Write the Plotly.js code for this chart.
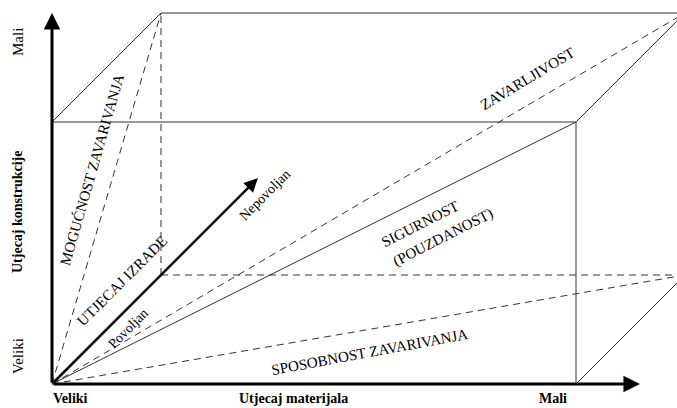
<!DOCTYPE html>
<html>
<head>
<meta charset="utf-8">
<script src="https://cdn.plot.ly/plotly-3.0.1.min.js"></script>
<style>html,body{margin:0;padding:0;background:#fff;}#chart{width:677px;height:408px;}</style>
</head>
<body>
<div id="chart"></div>
<script>
// ---- diagram data (units of the drawing) ----
const boxWidth = [10];        // front face width  (Utjecaj materijala)
const boxHeight = [5];        // front face height (Utjecaj konstrukcije)
const boxDepth = [2.08];      // depth (Utjecaj izrade)
const axisLength = [11.22, 7.08];   // x-axis, y-axis arrow lengths
const izradeArrow = [3.93];   // length (per component) of the UTJECAJ IZRADE arrow
const axisTitles = ["Utjecaj materijala", "Utjecaj konstrukcije"];
const xTickLabels = ["Veliki", "Mali"];
const yTickLabels = ["Veliki", "Mali"];
const regionLabels = ["MOGUĆNOST ZAVARIVANJA", "UTJECAJ IZRADE", "ZAVARLJIVOST",
                      "SIGURNOST", "(POUZDANOST)", "SPOSOBNOST ZAVARIVANJA"];
const arrowLabels = ["Povoljan", "Nepovoljan"];

// ---- geometry built from the data ----
const W = boxWidth[0], H = boxHeight[0], D = boxDepth[0];
const O = [0, 0], A = [W, 0], B = [W, H], C = [0, H];
const O2 = [D, D], A2 = [W + D, D], B2 = [W + D, H + D], C2 = [D, H + D];

function seg(p, q, dash, color, width) {
  return {x: [p[0], q[0]], y: [p[1], q[1]], mode: 'lines', type: 'scatter',
          hoverinfo: 'skip', showlegend: false,
          line: {color: color || '#333', width: width || 1, dash: dash || 'solid'}};
}
const dashPat = '7px,5px';
const traces = [
  // visible box edges
  seg(C, B), seg(A, B), seg(C, C2), seg(B, B2), seg(A, A2), seg(C2, B2),
  // hidden box edges
  seg(O2, C2, dashPat), seg(O2, A2, dashPat),
  // diagonals from the origin
  seg(O, C2, dashPat), seg(O, B), seg(O, B2, dashPat), seg(O, A2, dashPat)
];

const serif = 'Liberation Serif, Times New Roman, serif';
function lab(text, x, y, ang, size, bold, extra) {
  return Object.assign({text: bold ? '<b>' + text + '</b>' : text, x: x, y: y, xref: 'x', yref: 'y',
    showarrow: false, textangle: ang, font: {family: serif, size: size, color: '#000'}}, extra || {});
}
function arrow(tail, tip, width, size) {
  return {x: tip[0], y: tip[1], ax: tail[0], ay: tail[1], xref: 'x', yref: 'y', axref: 'x', ayref: 'y',
    text: '', showarrow: true, arrowhead: 2, arrowsize: size, arrowwidth: width, arrowcolor: '#000', standoff: 0, startstandoff: 0};
}
const px = v => v / 52.4;   // helper: pixel offsets to drawing units

const annotations = [
  arrow(O, [0, axisLength[1]], 3, 1.1),
  arrow(O, [axisLength[0], 0], 3, 1.1),
  arrow(O, [izradeArrow[0], izradeArrow[0]], 2.5, 1.1),
  // axis tick labels & titles
  lab(yTickLabels[1], px(-34), px(342), -90, 15, false),
  lab(axisTitles[1], px(-35), px(172), -90, 14, true),
  lab(yTickLabels[0], px(-34), px(28), -90, 15, false),
  lab(xTickLabels[0], px(18), px(-14), 0, 14, true),
  lab(axisTitles[0], px(241), px(-14), 0, 14, true),
  lab(xTickLabels[1], px(501), px(-14), 0, 14, true),
  // region labels
  lab(regionLabels[0], px(40), px(214), -74, 15, false),
  lab(regionLabels[1], px(70), px(103), -45, 15, false),
  lab(regionLabels[2], px(475), px(305), -31, 15, false),
  lab(regionLabels[3], px(368), px(160), -27, 15, false),
  lab(regionLabels[4], px(391), px(147), -27, 15, false),
  lab(regionLabels[5], px(318), px(32), -10.5, 15, false),
  lab(arrowLabels[0], px(76), px(56), -45, 14, false),
  lab(arrowLabels[1], px(212), px(189), -45, 14, false)
];

const layout = {
  width: 677, height: 408,
  margin: {l: 0, r: 0, t: 0, b: 0},
  paper_bgcolor: '#fff', plot_bgcolor: '#fff',
  xaxis: {range: [px(-52), px(625)], visible: false, fixedrange: true},
  yaxis: {range: [px(-24), px(384)], visible: false, fixedrange: true},
  showlegend: false,
  annotations: annotations
};
Plotly.newPlot('chart', traces, layout, {staticPlot: true, displayModeBar: false});
</script>
</body>
</html>
